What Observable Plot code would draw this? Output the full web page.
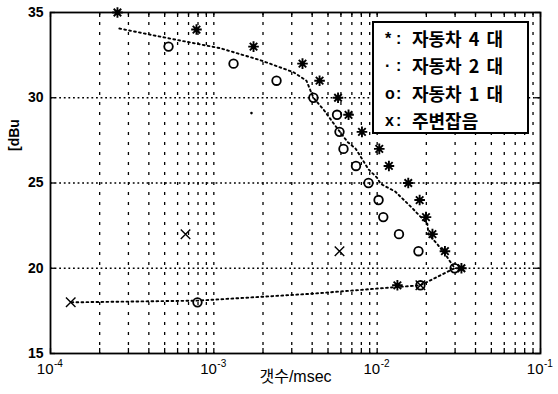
<!DOCTYPE html>
<html>
<head>
<meta charset="utf-8">
<script src="https://cdn.jsdelivr.net/npm/d3@7"></script>
<script src="https://cdn.jsdelivr.net/npm/@observablehq/plot@0.6"></script>
<style>
  body { margin: 0; background: #fff; }
  #chart { position: relative; width: 558px; height: 394px; background: #fff; }
  #chart svg { position: absolute; left: 0; top: 0; }
  .legend {
    position: absolute; left: 372px; top: 21px; width: 153px; height: 109px;
    border: 2px solid #000; background: #fff; color: #000;
    font-family: "Noto Sans CJK KR", "Liberation Sans", sans-serif; font-weight: 700; font-size: 18px;
  }
  .legend .row { position: absolute; left: 0; height: 27px; line-height: 27px; white-space: pre; width: 100%; }
  .legend .m { position: absolute; left: 11px; font-family: "Liberation Sans", sans-serif; font-size: 16px; }
  .legend .c { position: absolute; left: 22px; font-family: "Liberation Sans", sans-serif; font-size: 16px; }
  .legend .t { position: absolute; left: 38px; word-spacing: 3px; }
</style>
</head>
<body>
<div id="chart"></div>
<script>
// Axis ticks and labels
const xMajor = [1e-4, 1e-3, 1e-2, 1e-1];
const xExponents = ["-4", "-3", "-2", "-1"];
const yTicks = [15, 20, 25, 30, 35];
const yGrid = [20, 25, 30];
const xLabel = "갯수/msec";
const yLabel = "[dBu";

// Legend entries
const legendMarks = ["*", "·", "o", "x"];
const legendLabels = ["자동차 4 대", "자동차 2 대", "자동차 1 대", "주변잡음"];

// 자동차 4대 (*)
const car4X = [2.57e-4, 7.83e-4, 1.75e-3, 3.49e-3, 4.44e-3, 5.76e-3, 6.68e-3, 8.07e-3, 1.03e-2, 1.18e-2, 1.55e-2, 1.82e-2, 1.99e-2, 2.18e-2, 2.60e-2, 3.28e-2, 1.33e-2];
const car4Y = [35, 34, 33, 32, 31, 30, 29, 28, 27, 26, 25, 24, 23, 22, 21, 20, 19];

// 자동차 2대 (· dotted curve)
const car2X = [2.64e-4, 5.2e-4, 1.1e-3, 1.93e-3, 3.07e-3, 3.69e-3, 4.07e-3, 4.7e-3, 5.6e-3, 6.6e-3, 7.4e-3, 8.85e-3, 1.0e-2, 1.05e-2, 1.29e-2, 1.65e-2, 2.03e-2, 2.06e-2, 2.34e-2, 2.62e-2, 2.98e-2, 1.84e-2, 1.33e-2, 3.9e-3, 7.94e-4, 1.33e-4];
const car2Y = [34.06, 33.5, 32.9, 32.2, 31.5, 31, 30, 29.3, 28.3, 27.4, 27.0, 25.8, 25.3, 24.95, 24.5, 23.5, 22.6, 22, 21.4, 20.8, 20, 19, 18.9, 18.5, 18.1, 18];
const car2DotX = [1.7e-3];
const car2DotY = [29.1];

// 자동차 1대 (o)
const car1X = [5.28e-4, 1.32e-3, 2.42e-3, 4.07e-3, 5.68e-3, 5.88e-3, 6.22e-3, 7.42e-3, 8.85e-3, 1.02e-2, 1.09e-2, 1.36e-2, 1.79e-2, 2.98e-2, 1.84e-2, 7.94e-4];
const car1Y = [33, 32, 31, 30, 29, 28, 27, 26, 25, 24, 23, 22, 21, 20, 19, 18];

// 주변잡음 (x)
const noiseX = [1.33e-4, 6.71e-4, 5.88e-3, 1.84e-2];
const noiseY = [18, 22, 21, 19];

const pts = (xs, ys) => xs.map((x, i) => ({x, y: ys[i]}));
const car4 = pts(car4X, car4Y);
const car2 = pts(car2X, car2Y);
const car2Dots = pts(car2DotX, car2DotY);
const car1 = pts(car1X, car1Y);
const noise = pts(noiseX, noiseY);

// Layout
const W = 558, H = 394, mL = 50, mR = 18, mT = 12, mB = 41;
const innerW = W - mL - mR, innerH = H - mT - mB;
const tickLen = 5;

const logTicks = d3.scaleLog().domain([1e-4, 1e-1]).ticks();
const gridX = logTicks.filter(v => v > 1e-4 * 1.001 && v < 1e-1 * 0.999);

// Eight-armed asterisk marker
const asterisk = {
  draw(ctx, size) {
    const r = Math.sqrt(size / Math.PI);
    const d = r * Math.SQRT1_2;
    ctx.moveTo(-r, 0); ctx.lineTo(r, 0);
    ctx.moveTo(0, -r); ctx.lineTo(0, r);
    ctx.moveTo(-d, -d); ctx.lineTo(d, d);
    ctx.moveTo(-d, d); ctx.lineTo(d, -d);
  }
};

const ink = "#000";
const numFont = "Liberation Sans, Arial, sans-serif";

const svg = Plot.plot({
  width: W, height: H,
  marginLeft: mL, marginRight: mR, marginTop: mT, marginBottom: mB,
  x: {type: "log", domain: [1e-4, 1e-1], axis: null},
  y: {domain: [15, 35], axis: null},
  style: {background: "#fff", color: ink, fontFamily: numFont},
  marks: [
    // dotted grid
    Plot.ruleX(gridX, {x: d => d, stroke: ink, strokeWidth: 1.3, strokeDasharray: "3,7"}),
    Plot.ruleY(yGrid, {y: d => d, stroke: ink, strokeWidth: 1.6, strokeDasharray: "1.8,2.8"}),
    // inward tick marks
    Plot.tickX(logTicks, {x: d => d, insetBottom: innerH - tickLen, stroke: ink, strokeWidth: 1.3}),
    Plot.tickX(logTicks, {x: d => d, insetTop: innerH - tickLen, stroke: ink, strokeWidth: 1.3}),
    Plot.tickY(yTicks, {y: d => d, insetRight: innerW - tickLen, stroke: ink, strokeWidth: 1.3}),
    Plot.tickY(yTicks, {y: d => d, insetLeft: innerW - tickLen, stroke: ink, strokeWidth: 1.3}),
    Plot.frame({stroke: ink, strokeWidth: 1.8}),
    // 자동차 2대
    Plot.line(car2, {x: "x", y: "y", stroke: ink, strokeWidth: 1.9, strokeDasharray: "1.8,3.2", strokeLinecap: "round"}),
    Plot.dot(car2Dots, {x: "x", y: "y", r: 1.3, fill: ink, stroke: "none"}),
    // 자동차 1대
    Plot.dot(car1, {x: "x", y: "y", r: 4.3, fill: "none", stroke: ink, strokeWidth: 1.8}),
    // 자동차 4대
    Plot.dot(car4, {x: "x", y: "y", symbol: asterisk, r: 5.3, fill: "none", stroke: ink, strokeWidth: 1.9}),
    // 주변잡음
    Plot.dot(noise, {x: "x", y: "y", symbol: "times", r: 4.4, fill: "none", stroke: ink, strokeWidth: 1.4}),
    // y tick labels
    Plot.text(yTicks, {y: d => d, text: d => String(d), frameAnchor: "left", dx: -7, textAnchor: "end",
      fontSize: 14, fontWeight: "bold", fill: ink}),
    // x tick labels: 10 with exponent
    Plot.text(xMajor, {x: d => d, text: () => "10", frameAnchor: "bottom", dy: 20.5, dx: 3, textAnchor: "end",
      fontSize: 15, fill: ink}),
    Plot.text(xMajor, {x: d => d, text: (d, i) => xExponents[i], frameAnchor: "bottom", dy: 13.8, dx: 3.5, textAnchor: "start",
      fontSize: 10, fill: ink}),
    // axis titles
    Plot.text([xLabel], {text: d => d, frameAnchor: "bottom", dy: 28, fontSize: 16, fill: ink,
      fontFamily: "Liberation Sans, Noto Sans CJK KR, sans-serif"}),
    Plot.text([yLabel], {text: d => d, frameAnchor: "left", dx: -36, dy: -32, rotate: -90, fontSize: 14,
      fontWeight: "bold", fill: ink})
  ]
});

const chart = document.getElementById("chart");
chart.appendChild(svg);

// legend box inside the axes
const legend = document.createElement("div");
legend.className = "legend";
legendMarks.forEach((m, i) => {
  const row = document.createElement("div");
  row.className = "row";
  row.style.top = (2 + 27.3 * i) + "px";
  row.innerHTML = `<span class="m"></span><span class="c">:</span><span class="t"></span>`;
  row.querySelector(".m").textContent = m;
  row.querySelector(".t").textContent = legendLabels[i];
  legend.appendChild(row);
});
chart.appendChild(legend);
</script>
</body>
</html>
